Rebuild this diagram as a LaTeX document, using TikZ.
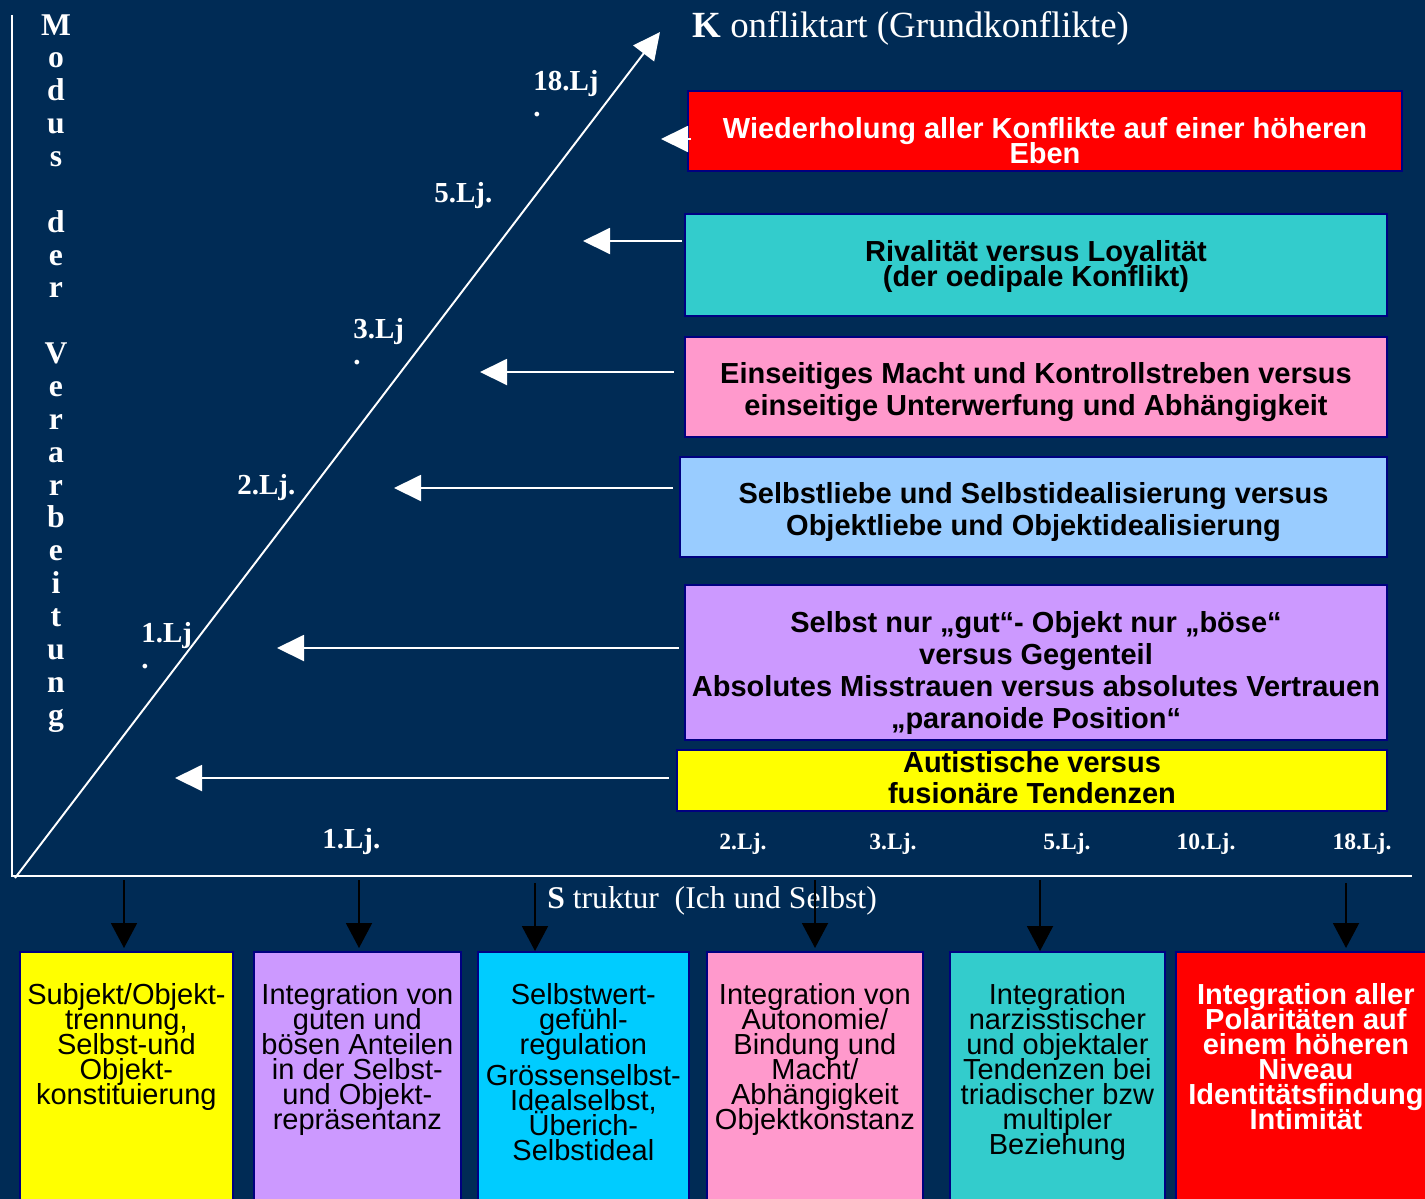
\documentclass[tikz,border=0pt]{standalone}
\usepackage{fontspec}
\setmainfont{Liberation Serif}
\newfontfamily\boxfont{Liberation Sans}
\usetikzlibrary{arrows.meta, calc}
\setlength{\lineskiplimit}{-\maxdimen}
\definecolor{bgcolor}    {RGB}{0, 43, 85}
\definecolor{edgecolor}  {RGB}{0, 0, 128}
\definecolor{redcolor}   {RGB}{255, 0, 0}
\definecolor{tealcolor}  {RGB}{51, 204, 204}
\definecolor{pinkcolor}  {RGB}{255, 153, 204}
\definecolor{bluecolor}  {RGB}{153, 204, 255}
\definecolor{lilacolor}  {RGB}{204, 153, 255}
\definecolor{yellowcolor}{RGB}{255, 255, 0}
\definecolor{cyancolor}  {RGB}{0, 204, 255}
\tikzset{
	konfblock/.style={
		rectangle, draw=edgecolor, line width=1pt,
		inner sep=1pt, align=center,
		font=\boxfont\bfseries\fontsize{16.5}{18.2}\selectfont
	},
	tightblock/.style={
		konfblock, font=\boxfont\bfseries\fontsize{16.5}{14.2}\selectfont
	},
	strukblock/.style={
		rectangle, draw=edgecolor, line width=1pt,
		minimum height=5.3cm, anchor=north west
	},
	struktext/.style={
		align=center, inner sep=0pt, anchor=north,
		font=\boxfont\fontsize{16.5}{14.2}\selectfont
	},
	ljlabel/.style={
		text=white, inner sep=0pt, anchor=north west, align=left,
		font=\bfseries\fontsize{16.5}{14.8}\selectfont
	},
	ljsmall/.style={
		text=white, inner sep=0pt, anchor=base,
		font=\bfseries\fontsize{13.4}{16}\selectfont
	},
	axisline/.style={white, line width=1.1pt},
	konfarrow/.style={
		-{Triangle[length=0.54cm, width=0.52cm]}, white, line width=1.1pt
	},
	strukarrow/.style={
		-{Triangle[length=0.5cm, width=0.52cm]}, black, line width=1.1pt
	}
}
\begin{document}
\begin{tikzpicture}
	\useasboundingbox (0,0) rectangle (28.5,-23.96);
	\clip (-0.1,0.1) rectangle (28.6,-24.06);
	\fill[bgcolor] (-0.1,0.1) rectangle (28.6,-24.06);
	
	%% ═══════════════════════════════
	%%  AXES
	%% ═══════════════════════════════
	\coordinate (ytop)   at (0.24,-0.3);
	\coordinate (origin) at (0.24,-17.52);
	\coordinate (xend)   at (28.24,-17.52);
	\coordinate (dstart) at (0.3,-17.56);
	\coordinate (dtip)   at (13.2,-0.64);
	
	\draw[axisline] (ytop) -- (origin) -- (xend);
	\draw[konfarrow] (dstart) -- (dtip);
	
	\node[text=white, inner sep=0pt, anchor=north, align=center,
	font=\bfseries\fontsize{18}{18.7}\selectfont] (modus) at (1.12,-0.28)
	{M\\o\\d\\u\\s\\[18.7pt]d\\e\\r\\[18.7pt]V\\e\\r\\a\\r\\b\\e\\i\\t\\u\\n\\g};
	
	\node[text=white, inner sep=0pt, anchor=base west,
	font=\fontsize{21}{24}\selectfont] (konfart) at (13.84,-0.76)
	{\textbf{K} onfliktart (Grundkonflikte)};
	
	%% Lebensjahre am Diagonalpfeil
	\node[ljlabel] (lj18) at (10.66,-1.4)   {18.Lj\\.};
	\node[ljlabel] (lj5)  at (8.68,-3.64)   {5.Lj.};
	\node[ljlabel] (lj3)  at (7.06,-6.36)   {3.Lj\\.};
	\node[ljlabel] (lj2)  at (4.74,-9.48)   {2.Lj.};
	\node[ljlabel] (lj1)  at (2.82,-12.44)  {1.Lj\\.};
	\node[ljlabel] (lj1b) at (6.44,-16.56)  {1.Lj.};
	
	%% Lebensjahre an der Strukturachse
	\node[ljsmall] (x2)  at (14.86,-16.98) {2.Lj.};
	\node[ljsmall] (x3)  at (17.86,-16.98) {3.Lj.};
	\node[ljsmall] (x5)  at (21.34,-16.98) {5.Lj.};
	\node[ljsmall] (x10) at (24.12,-16.98) {10.Lj.};
	\node[ljsmall] (x18) at (27.24,-16.98) {18.Lj.};
	
	%% ═══════════════════════════════
	%%  KONFLIKTE (rechte Spalte)
	%% ═══════════════════════════════
	\node[tightblock, fill=redcolor, text=white,
	minimum width=14.28cm, minimum height=1.6cm] (wiederh) at (20.9,-2.62)
	{\rule{0pt}{23pt}Wiederholung aller Konflikte auf einer höheren\\Eben};
	
	\node[tightblock, fill=tealcolor,
	minimum width=14.04cm, minimum height=2.04cm] (rival) at (20.72,-5.3)
	{\rule{0pt}{14pt}Rivalität versus Loyalität\\(der oedipale Konflikt)};
	
	\node[konfblock, fill=pinkcolor,
	minimum width=14.04cm, minimum height=2.0cm] (macht) at (20.72,-7.74)
	{\rule{0pt}{18pt}Einseitiges Macht und Kontrollstreben versus\\einseitige Unterwerfung und Abhängigkeit};
	
	\node[konfblock, fill=bluecolor,
	minimum width=14.14cm, minimum height=2.0cm] (liebe) at (20.67,-10.14)
	{\rule{0pt}{18pt}Selbstliebe und Selbstidealisierung versus\\Objektliebe und Objektidealisierung};
	
	\node[konfblock, fill=lilacolor,
	minimum width=14.04cm, minimum height=3.1cm] (spaltung) at (20.72,-13.25)
	{\rule{0pt}{23.5pt}Selbst nur „gut“- Objekt nur „böse“\\versus Gegenteil\\Absolutes Misstrauen versus absolutes Vertrauen\\„paranoide Position“};
	
	\node[konfblock, fill=yellowcolor,
	font=\boxfont\bfseries\fontsize{16.5}{17.6}\selectfont,
	minimum width=14.2cm, minimum height=1.22cm] (autist) at (20.64,-15.61)
	{Autistische versus\\fusionäre Tendenzen\rule[-3pt]{0pt}{3pt}};
	
	% Pfeile zur Diagonale
	\coordinate (k6) at (13.22,-2.78);
	\coordinate (k5) at (11.66,-4.82);
	\coordinate (k4) at (9.6,-7.44);
	\coordinate (k3) at (7.88,-9.76);
	\coordinate (k2) at (5.54,-12.96);
	\coordinate (k1) at (3.5,-15.56);
	
	\draw[konfarrow] ([xshift=0.08cm]wiederh.west |- k6) -- (k6);
	\draw[konfarrow] ([xshift=-0.04cm]rival.west |- k5) -- (k5);
	\draw[konfarrow] ([xshift=-0.2cm]macht.west |- k4) -- (k4);
	\draw[konfarrow] ([xshift=-0.12cm]liebe.west |- k3) -- (k3);
	\draw[konfarrow] ([xshift=-0.1cm]spaltung.west |- k2) -- (k2);
	\draw[konfarrow] ([xshift=-0.14cm]autist.west |- k1) -- (k1);
	
	%% ═══════════════════════════════
	%%  STRUKTUR (untere Reihe)
	%% ═══════════════════════════════
	\node[text=white, inner sep=0pt, anchor=base west,
	font=\fontsize{18}{22}\selectfont] (struktur) at (10.94,-18.16)
	{\textbf{S} truktur\ \ (Ich und Selbst)};
	
	\node[strukblock, fill=yellowcolor, minimum width=4.26cm] (s1) at (0.38,-19.02)  {};
	\node[strukblock, fill=lilacolor,   minimum width=4.14cm] (s2) at (5.06,-19.02)  {};
	\node[strukblock, fill=cyancolor,   minimum width=4.22cm] (s3) at (9.54,-19.02)  {};
	\node[strukblock, fill=pinkcolor,   minimum width=4.32cm] (s4) at (14.12,-19.02) {};
	\node[strukblock, fill=tealcolor,   minimum width=4.30cm] (s5) at (18.98,-19.02) {};
	\node[strukblock, fill=redcolor,    minimum width=5.2cm]  (s6) at (23.5,-19.02)  {};
	
	\node[struktext] (t1) at ([yshift=-0.64cm]s1.north)
	{Subjekt/Objekt-\\trennung,\\Selbst-und\\Objekt-\\konstituierung};
	\node[struktext] (t2) at ([yshift=-0.64cm]s2.north)
	{Integration von\\guten und\\bösen Anteilen\\in der Selbst-\\und Objekt-\\repräsentanz};
	\node[struktext] (t3) at ([yshift=-0.64cm]s3.north)
	{Selbstwert-\\gefühl-\\regulation\\[0.12cm]Grössenselbst-\\Idealselbst,\\Überich-\\Selbstideal};
	\node[struktext] (t4) at ([yshift=-0.64cm]s4.north)
	{Integration von\\Autonomie/\\Bindung und\\Macht/\\Abhängigkeit\\Objektkonstanz};
	\node[struktext] (t5) at ([yshift=-0.64cm]s5.north)
	{Integration\\narzisstischer\\und objektaler\\Tendenzen bei\\triadischer bzw\\multipler\\Beziehung};
	\node[struktext, text=white, font=\boxfont\bfseries\fontsize{16.5}{14.2}\selectfont]
	(t6) at ([yshift=-0.64cm]s6.north)
	{Integration aller\\Polaritäten auf\\einem höheren\\Niveau\\Identitätsfindung\\Intimität};
	
	% Pfeile von der Strukturachse
	\coordinate (d1) at (2.48,-17.6);
	\coordinate (d2) at (7.18,-17.6);
	\coordinate (d3) at (10.7,-17.66);
	\coordinate (d4) at (16.3,-17.6);
	\coordinate (d5) at (20.8,-17.6);
	\coordinate (d6) at (26.92,-17.66);
	
	\draw[strukarrow, shorten >=0.06cm] (d1) -- (d1 |- s1.north);
	\draw[strukarrow, shorten >=0.06cm] (d2) -- (d2 |- s2.north);
	\draw[strukarrow] (d3) -- (d3 |- s3.north);
	\draw[strukarrow, shorten >=0.06cm] (d4) -- (d4 |- s4.north);
	\draw[strukarrow] (d5) -- (d5 |- s5.north);
	\draw[strukarrow, shorten >=0.06cm] (d6) -- (d6 |- s6.north);
\end{tikzpicture}
\end{document}
